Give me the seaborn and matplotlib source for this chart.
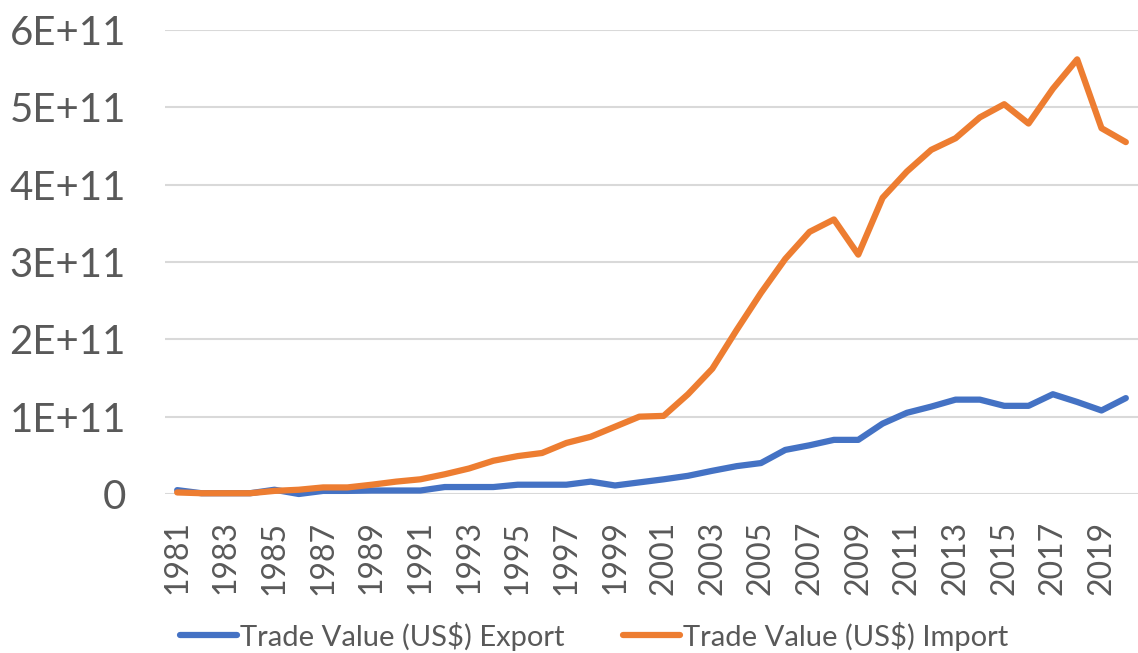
import numpy as np
import pandas as pd
import matplotlib
matplotlib.use("Agg")
import matplotlib.pyplot as plt
import seaborn as sns
from matplotlib.lines import Line2D

years = list(range(1981, 2021))
export_vals = [0.05, 0.01, 0.01, 0.01, 0.055, 0.0, 0.04, 0.04, 0.045, 0.045,
               0.045, 0.09, 0.09, 0.09, 0.12, 0.12, 0.12, 0.16, 0.11, 0.15,
               0.19, 0.235, 0.30, 0.36, 0.40, 0.57, 0.63, 0.70, 0.70, 0.91,
               1.05, 1.13, 1.22, 1.22, 1.14, 1.14, 1.29, 1.19, 1.08, 1.24]
import_vals = [0.02, 0.01, 0.01, 0.01, 0.04, 0.055, 0.085, 0.085, 0.12, 0.16,
               0.19, 0.255, 0.33, 0.43, 0.49, 0.53, 0.66, 0.74, 0.87, 1.0,
               1.01, 1.29, 1.62, 2.12, 2.60, 3.04, 3.39, 3.55, 3.095, 3.83,
               4.17, 4.45, 4.60, 4.87, 5.04, 4.79, 5.24, 5.62, 4.73, 4.55]
scale = 1e11
series_names = ["Trade Value (US$) Export", "Trade Value (US$) Import"]
colors = ["#4472C4", "#ED7D31"]
ytick_vals = [0, 1e11, 2e11, 3e11, 4e11, 5e11, 6e11]
ytick_labels = ["0", "1E+11", "2E+11", "3E+11", "4E+11", "5E+11", "6E+11"]
xtick_years = list(range(1981, 2021, 2))

df = pd.DataFrame({
    "Year": years * 2,
    "Value": [v * scale for v in export_vals] + [v * scale for v in import_vals],
    "Series": [series_names[0]] * len(years) + [series_names[1]] * len(years),
})

sns.set_theme(style="white")
plt.rcParams["font.family"] = ["Lato", "DejaVu Sans"]

fig = plt.figure(figsize=(11.38, 6.53), dpi=100)
ax = fig.add_axes([0.145, 0.2435, 0.855, 0.7106])

sns.lineplot(data=df, x="Year", y="Value", hue="Series", palette=colors,
             linewidth=4.5, ax=ax, legend=False, sort=False)
for ln in ax.lines:
    ln.set_solid_capstyle("round")
    ln.set_solid_joinstyle("round")
    ln.set_clip_on(False)

ax.set_xlim(1980.5, 2020.5)
ax.set_ylim(0, 6e11)
ax.set_yticks(ytick_vals)
ax.set_yticklabels(ytick_labels)
ax.set_xticks(xtick_years)
ax.set_xticklabels([str(y) for y in xtick_years], rotation=90)
ax.tick_params(axis="y", labelsize=29, colors="#595959", length=0, pad=28)
ax.tick_params(axis="x", labelsize=23, colors="#595959", length=0, pad=19)
ax.set_xlabel("")
ax.set_ylabel("")
for s in ax.spines.values():
    s.set_visible(False)
ax.grid(axis="y", color="#D9D9D9", linewidth=1.5)
ax.set_axisbelow(True)

handles = [Line2D([0], [0], color=c, linewidth=4.5, solid_capstyle="round") for c in colors]
fig.legend(handles, series_names, loc="center", bbox_to_anchor=(0.522, 0.026),
           ncol=2, frameon=False, fontsize=21, handlelength=1.95, handletextpad=0.1,
           columnspacing=2.0, labelcolor="#595959")

fig.savefig("out.png", dpi=100, facecolor="white")
